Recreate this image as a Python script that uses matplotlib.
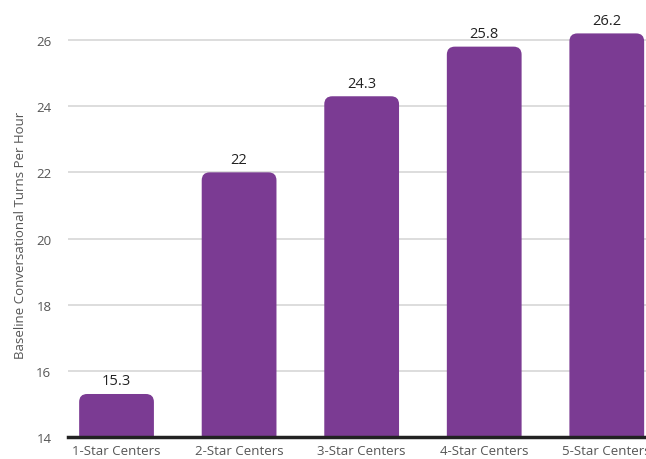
import matplotlib
matplotlib.use("Agg")
import matplotlib.pyplot as plt
from matplotlib.patches import FancyBboxPatch

categories = ["1-Star Centers", "2-Star Centers", "3-Star Centers", "4-Star Centers", "5-Star Centers"]
values = [15.3, 22, 24.3, 25.8, 26.2]
value_labels = ["15.3", "22", "24.3", "25.8", "26.2"]
yticks = [14, 16, 18, 20, 22, 24, 26]

plt.rcParams['font.family'] = ['Open Sans', 'DejaVu Sans']

fig = plt.figure(figsize=(6.46, 4.6), dpi=100)
ax = fig.add_axes([68/646, 22/460, 1 - 68/646, 1 - 22/460])

color = "#7B3B93"
ymin, ymax = 14, 27.24
ax.set_ylim(ymin, ymax)
ax.set_xlim(-0.396, 4.32)
width = 0.61

x_px_per_unit = 122.5
y_px_per_unit = (438 - 41) / 12.0
r_px = 8
rs = r_px / x_px_per_unit
aspect = (r_px / y_px_per_unit) / rs

for i, v in enumerate(values):
    p = FancyBboxPatch((i - width/2, ymin - 1), width, v - ymin + 1,
                       boxstyle=f"round,pad=0,rounding_size={rs}",
                       mutation_aspect=aspect, facecolor=color,
                       edgecolor="none", zorder=3, clip_on=True)
    ax.add_patch(p)
    ax.text(i, v + 13/y_px_per_unit, value_labels[i], ha="center", va="center",
            fontsize=10.5, color="#222222", zorder=4)

ax.set_yticks(yticks)
ax.set_yticklabels([str(t) for t in yticks])
ax.set_xticks(range(len(categories)))
ax.set_xticklabels(categories)
ax.tick_params(axis="both", length=0, labelsize=9.5, labelcolor="#555555")
ax.tick_params(axis="y", pad=12)
ax.tick_params(axis="x", pad=5)
ax.yaxis.grid(True, color="#dddddd", linewidth=1.4, zorder=0)
ax.set_axisbelow(True)
for s in ["top", "right", "left"]:
    ax.spines[s].set_visible(False)
ax.spines["bottom"].set_color("#222222")
ax.spines["bottom"].set_linewidth(2.5)
ax.spines["bottom"].set_zorder(5)

ax.set_ylabel("Baseline Conversational Turns Per Hour", fontsize=9.5, color="#555555")
ax.yaxis.set_label_coords(-41/578, (438 - 235) / 438)

fig.savefig("out.png", dpi=100)
